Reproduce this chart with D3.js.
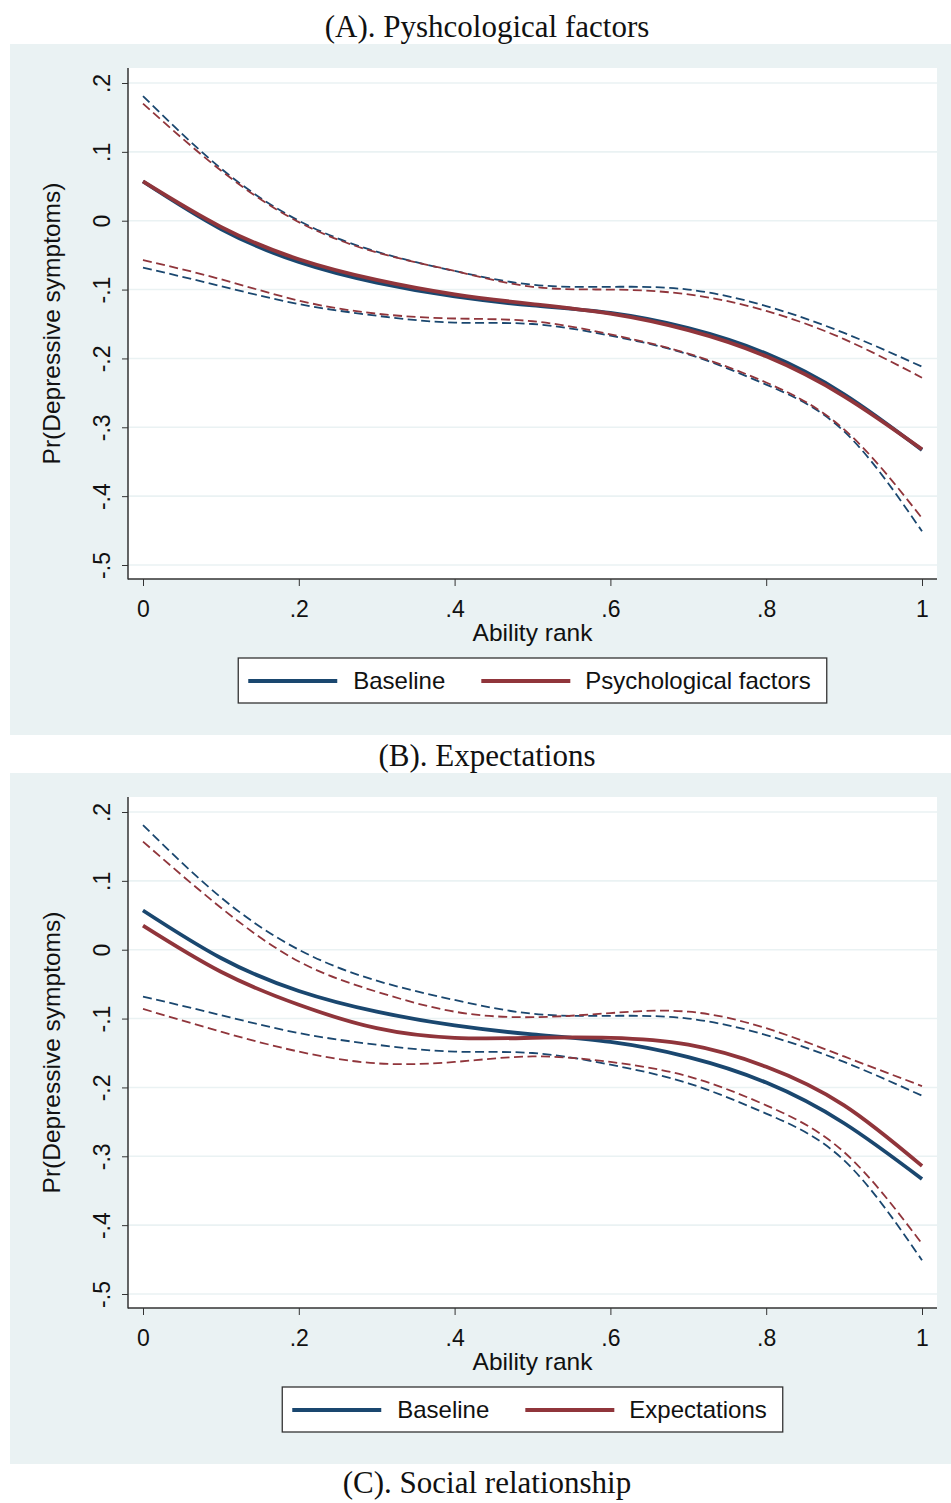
<!DOCTYPE html>
<html>
<head>
<meta charset="utf-8">
<script src="https://cdn.jsdelivr.net/npm/d3@7"></script>
<style>
  body { margin: 0; background: #fff; }
  text { font-family: "Liberation Sans", Arial, sans-serif; fill: #111; }
  .ttl { font-family: "Liberation Serif", "Times New Roman", serif; font-size: 31px; }
</style>
</head>
<body>
<script>
// ability rank (x) values read at steps of .1
const rank = [0, .1, .2, .3, .4, .5, .6, .7, .8, .9, 1]

// baseline model (same in both panels)
const baseMean = [0.057, -0.012, -0.060, -0.090, -0.110, -0.123, -0.134, -0.156, -0.193, -0.252, -0.333]
const baseHi   = [0.181, 0.076, 0.000, -0.045, -0.073, -0.093, -0.096, -0.100, -0.124, -0.163, -0.212]
const baseLo   = [-0.068, -0.095, -0.121, -0.138, -0.148, -0.150, -0.167, -0.194, -0.238, -0.306, -0.451]

// psychological factors
const psyMean = [0.057, -0.009, -0.056, -0.086, -0.107, -0.121, -0.135, -0.159, -0.197, -0.255, -0.332]
const psyHi   = [0.170, 0.073, -0.002, -0.046, -0.073, -0.096, -0.100, -0.107, -0.131, -0.172, -0.228]
const psyLo   = [-0.057, -0.085, -0.116, -0.135, -0.142, -0.146, -0.165, -0.193, -0.235, -0.303, -0.432]

// expectations
const expMean = [0.035, -0.032, -0.080, -0.114, -0.128, -0.128, -0.128, -0.138, -0.170, -0.226, -0.314]
const expHi   = [0.157, 0.061, -0.017, -0.061, -0.090, -0.098, -0.092, -0.090, -0.114, -0.155, -0.198]
const expLo   = [-0.086, -0.119, -0.148, -0.165, -0.163, -0.155, -0.163, -0.184, -0.226, -0.294, -0.427]

const yTicks = [.2, .1, 0, -.1, -.2, -.3, -.4, -.5]
const yTickLabels = [".2", ".1", "0", "-.1", "-.2", "-.3", "-.4", "-.5"]
const xTicks = [0, .2, .4, .6, .8, 1]
const xTickLabels = ["0", ".2", ".4", ".6", ".8", "1"]

const panelTitles = ["(A). Pyshcological factors", "(B). Expectations"]
const legendLabels = [["Baseline", "Psychological factors"], ["Baseline", "Expectations"]]
const footTitle = "(C). Social relationship"

const navy = "#1a476f", red = "#90353b", bg = "#eaf2f3"
const width = 951, height = 1503
const plot = {left: 128, right: 937, top: 68, bottom: 579}

const svg = d3.select("body").append("svg")
  .attr("width", width).attr("height", height)

const x = d3.scaleLinear().domain([0, 1]).range([143, 922])
const y = d3.scaleLinear().domain([-0.5, 0.2]).range([565, 83])

const line = d3.line()
  .x(d => x(d[0]))
  .y(d => y(d[1]))
  .curve(d3.curveNatural)

const panels = [
  {off: 0, other: [psyMean, psyLo, psyHi]},
  {off: 729, other: [expMean, expLo, expHi]}
]

panels.forEach(function(p, i){
  const g = svg.append("g").attr("transform", "translate(0," + p.off + ")")

  g.append("text").attr("class", "ttl")
    .attr("x", 487).attr("y", 37).attr("text-anchor", "middle")
    .text(panelTitles[i])

  g.append("rect").attr("x", 10).attr("y", 44).attr("width", 941).attr("height", 691).attr("fill", bg)
  g.append("rect").attr("x", plot.left).attr("y", plot.top)
    .attr("width", plot.right - plot.left).attr("height", plot.bottom - plot.top).attr("fill", "#fff")

  // gridlines
  g.selectAll(".grid").data(yTicks).enter().append("line")
    .attr("x1", plot.left).attr("x2", plot.right)
    .attr("y1", d => y(d)).attr("y2", d => y(d))
    .attr("stroke", bg).attr("stroke-width", 1.6)

  // y axis
  const ya = g.append("g").attr("transform", "translate(" + plot.left + ",0)")
    .call(d3.axisLeft(y).tickValues(yTicks).tickSize(6).tickSizeOuter(0)
      .tickFormat((d, k) => yTickLabels[k]))
  ya.select(".domain").remove()
  ya.selectAll(".tick line").attr("stroke", "#333")
  ya.selectAll(".tick text")
    .attr("x", 0).attr("y", 0).attr("dy", 0)
    .attr("text-anchor", "middle")
    .attr("transform", "translate(-18,0) rotate(-90)")
    .style("font-size", "23px").style("font-family", "Liberation Sans, Arial, sans-serif")

  // x axis
  const xa = g.append("g").attr("transform", "translate(0," + plot.bottom + ")")
    .call(d3.axisBottom(x).tickValues(xTicks).tickSize(7).tickSizeOuter(0)
      .tickFormat((d, k) => xTickLabels[k]))
  xa.select(".domain").remove()
  xa.selectAll(".tick line").attr("stroke", "#333")
  xa.selectAll(".tick text")
    .attr("y", 38).attr("dy", 0)
    .style("font-size", "23px").style("font-family", "Liberation Sans, Arial, sans-serif")

  g.append("line").attr("x1", plot.left).attr("x2", plot.left)
    .attr("y1", plot.top).attr("y2", plot.bottom + 0.5).attr("stroke", "#333").attr("stroke-width", 1.5)
  g.append("line").attr("x1", plot.left).attr("x2", plot.right)
    .attr("y1", plot.bottom).attr("y2", plot.bottom).attr("stroke", "#333").attr("stroke-width", 1.5)

  // axis titles
  g.append("text").attr("transform", "translate(60," + (plot.top + plot.bottom) / 2 + ") rotate(-90)")
    .attr("text-anchor", "middle").style("font-size", "24.5px")
    .text("Pr(Depressive symptoms)")
  g.append("text").attr("x", (plot.left + plot.right) / 2).attr("y", 641)
    .attr("text-anchor", "middle").style("font-size", "24.5px")
    .text("Ability rank")

  // lines
  const series = [
    {v: baseLo, c: navy, dash: true}, {v: baseHi, c: navy, dash: true},
    {v: p.other[1], c: red, dash: true}, {v: p.other[2], c: red, dash: true},
    {v: baseMean, c: navy, dash: false}, {v: p.other[0], c: red, dash: false}
  ]
  series.forEach(function(s){
    g.append("path")
      .attr("d", line(rank.map((r, k) => [r, s.v[k]])))
      .attr("fill", "none")
      .attr("stroke", s.c)
      .attr("stroke-width", s.dash ? 1.8 : 3.8)
      .attr("stroke-dasharray", s.dash ? "9,4.5" : null)
  })

  // legend
  const lg = g.append("g")
  const box = lg.append("rect").attr("y", 658).attr("height", 45)
    .attr("fill", "#fff").attr("stroke", "#333").attr("stroke-width", 1.3)
  const t1 = lg.append("text").attr("y", 689).style("font-size", "24px").text(legendLabels[i][0])
  const t2 = lg.append("text").attr("y", 689).style("font-size", "24px").text(legendLabels[i][1])
  const w1 = t1.node().getComputedTextLength(), w2 = t2.node().getComputedTextLength()
  const bw = 10 + 89 + 16 + w1 + 36 + 89 + 15 + w2 + 16
  const bx = (plot.left + plot.right) / 2 - bw / 2
  box.attr("x", bx).attr("width", bw)
  lg.append("line").attr("x1", bx + 10).attr("x2", bx + 99).attr("y1", 681).attr("y2", 681)
    .attr("stroke", navy).attr("stroke-width", 3.8)
  t1.attr("x", bx + 115)
  const x2 = bx + 115 + w1 + 36
  lg.append("line").attr("x1", x2).attr("x2", x2 + 89).attr("y1", 681).attr("y2", 681)
    .attr("stroke", red).attr("stroke-width", 3.8)
  t2.attr("x", x2 + 104)
})

svg.append("text").attr("class", "ttl")
  .attr("x", 487).attr("y", 1493).attr("text-anchor", "middle")
  .text(footTitle)
</script>
</body>
</html>
